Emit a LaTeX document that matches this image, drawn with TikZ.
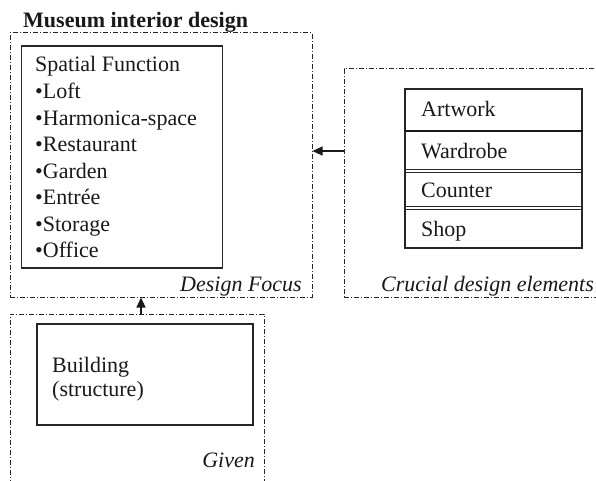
\documentclass[tikz,border=0pt]{standalone}
\usepackage{fontspec}
\setmainfont{Liberation Serif}
\usetikzlibrary{arrows.meta}
\begin{document}
\begin{tikzpicture}[x=1pt,y=-1pt,
  every node/.style={font=\fontsize{22}{26.5}\selectfont, text=black!90, inner sep=0pt},
  frame/.style={draw=black!85, line width=1pt, dash pattern=on 5pt off 2pt on 1pt off 2pt, minimum width=#1},
  solidbox/.style={draw=black!85, line width=1.2pt},
  lbl/.style={anchor=base east, font=\fontsize{22}{26.5}\selectfont\itshape},
  txt/.style={anchor=base west},
  arr/.style={draw=black!90, line width=1.1pt, -{Triangle[length=10pt,width=9pt]}}]
\clip (0,0) rectangle (596,481);
\fill[white] (0,0) rectangle (596,481);

% title
\node[txt, font=\fontsize{22}{26.5}\selectfont\bfseries] (title) at (23,28) {Museum interior design};

% dash-dotted frames
\node[frame=302pt, minimum height=264pt] (df) at (161,165) {};
\node[frame=266pt, minimum height=228pt] (ce) at (477,183) {};
\node[frame=254pt, minimum height=186pt] (gv) at (137,407) {};

% spatial function list
\node[solidbox, minimum width=201pt, minimum height=222pt] (sf) at (122,157) {};
\node[txt] (s0) at (35,72) {Spatial Function};
\foreach \t [count=\i] in {Loft,Harmonica-space,Restaurant,Garden,Entrée,Storage,Office}
  \node[txt] (s\i) at (35,{72+26.57*\i}) {•\t};
\node[lbl] (dfl) at (302,291) {Design Focus};

% crucial design elements stack
\node[solidbox, minimum width=177pt, minimum height=159pt] (stk) at (493.5,168.5) {};
\draw[black!90, line width=2pt] (stk.west |- 0,131) -- (stk.east |- 0,131);
\foreach \yy in {169,172,206,209}
  \draw[black!85, line width=1pt] (stk.west |- 0,\yy) -- (stk.east |- 0,\yy);
\node[txt] (e1) at (421,117) {Artwork};
\node[txt] (e2) at (421,159) {Wardrobe};
\node[txt] (e3) at (421,197) {Counter};
\node[txt] (e4) at (421,236) {Shop};
\node[lbl] (cel) at (594,291) {Crucial design elements};

% given building
\node[solidbox, minimum width=216pt, minimum height=101pt] (bd) at (145,374.5) {};
\node[txt] (b1) at (52,372) {Building};
\node[txt] (b2) at (52,396) {(structure)};
\node[lbl] (gvl) at (255,467) {Given};

% connectors
\draw[arr] ([xshift=4pt]gv.north) -- ([xshift=4pt]gv.north |- df.south);
\draw[arr] ([yshift=32pt]ce.west) -- ([yshift=32pt]ce.west -| df.east);
\end{tikzpicture}
\end{document}
